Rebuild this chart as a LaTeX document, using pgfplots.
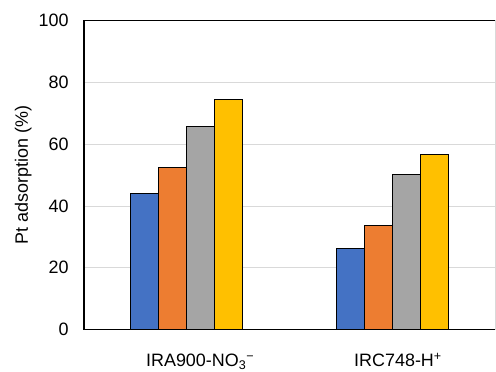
\documentclass[border=0pt]{standalone}
\usepackage{pgfplots}
\pgfplotsset{compat=1.18}
\usepackage{fontspec}
\setmainfont{Liberation Sans}
\definecolor{cblue}{HTML}{4472C4}
\definecolor{corange}{HTML}{ED7D31}
\definecolor{cgray}{HTML}{A5A5A5}
\definecolor{cyellow}{HTML}{FFC000}
\definecolor{cgrid}{HTML}{D9D9D9}
\begin{document}
\begin{tikzpicture}
\begin{axis}[
  scale only axis,
  width=411bp, height=309.4bp,
  ybar=0pt, bar width=27.9bp,
  xmin=-0.5, xmax=1.5,
  ymin=0, ymax=100,
  ytick={0,20,40,60,80,100},
  xtick={0.065,1.028},
  xticklabels={IRA900-NO\textsubscript{3}\textsuperscript{−}, IRC748-H\textsuperscript{+}},
  major tick length=0pt,
  ymajorgrids, grid style={cgrid, line width=0.8bp},
  axis line style={draw=none},
  /pgf/number format/assume math mode=true,
  tick label style={font=\fontsize{18}{21}\selectfont},
  yticklabel style={xshift=-12bp},
  xticklabel style={anchor=base, yshift=-37bp},
  ylabel={Pt adsorption (\%)},
  ylabel style={font=\fontsize{18}{21}\selectfont, yshift=0bp},
  every axis plot/.append style={draw=black, line width=0.9bp},
]
\addplot[fill=cblue] coordinates {(0,44.1) (1,26.3)};
\addplot[fill=corange] coordinates {(0,52.5) (1,33.7)};
\addplot[fill=cgray] coordinates {(0,65.8) (1,50.2)};
\addplot[fill=cyellow] coordinates {(0,74.5) (1,56.6)};
\end{axis}
\draw[cgrid, line width=1bp] (current axis.north east) -- (current axis.south east);
\draw[black, line width=1.3bp] (current axis.south west) -- (current axis.north west) -- (current axis.north east);
\draw[black, line width=1.5bp] (current axis.south west) -- (current axis.south east);
\pgfresetboundingbox
\path ([shift={(-84bp,-42.3bp)}]current axis.south west) rectangle ([shift={(1bp,20.3bp)}]current axis.north east);
\end{tikzpicture}
\end{document}
